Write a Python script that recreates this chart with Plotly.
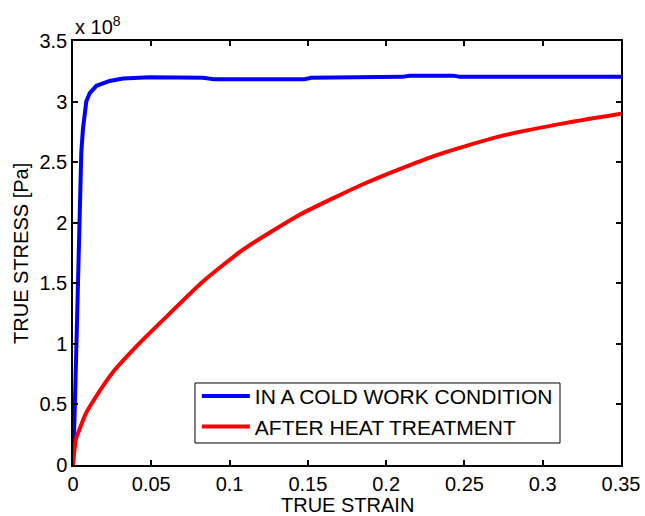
import plotly.graph_objects as go

# TRUE STRAIN values and TRUE STRESS values (in units of 1e8 Pa)
cold_strain = [0, 0.0007, 0.001, 0.0021, 0.0032, 0.0043, 0.0053, 0.0064, 0.0085, 0.0107,
               0.015, 0.0234, 0.032, 0.049, 0.083, 0.09, 0.148, 0.152, 0.18, 0.185,
               0.21, 0.215, 0.243, 0.247, 0.35]
cold_stress = [0, 0.2, 0.4, 0.95, 1.5, 2.15, 2.58, 2.78, 3.0, 3.07,
               3.13, 3.17, 3.19, 3.2, 3.196, 3.185, 3.185, 3.196, 3.196, 3.204,
               3.204, 3.214, 3.214, 3.204, 3.204]

heat_strain = [0, 0.001, 0.002, 0.004, 0.008, 0.013, 0.019, 0.027, 0.0405, 0.0617,
               0.083, 0.1086, 0.1448, 0.1874, 0.23, 0.2725, 0.315, 0.35]
heat_stress = [0, 0.13, 0.22, 0.29, 0.42, 0.53, 0.65, 0.79, 0.98, 1.25,
               1.515, 1.777, 2.066, 2.33, 2.548, 2.713, 2.824, 2.90]

SCALE = 1e8
x_ticks = [0, 0.05, 0.1, 0.15, 0.2, 0.25, 0.3, 0.35]
x_ticktext = ["0", "0.05", "0.1", "0.15", "0.2", "0.25", "0.3", "0.35"]
y_ticks = [0, 0.5, 1, 1.5, 2, 2.5, 3, 3.5]
y_ticktext = ["0", "0.5", "1", "1.5", "2", "2.5", "3", "3.5"]

FONT = "Liberation Sans, Arial, Helvetica, sans-serif"

fig = go.Figure()
fig.add_trace(go.Scatter(x=cold_strain, y=[v * SCALE for v in cold_stress], mode="lines",
                         name="IN A COLD WORK CONDITION",
                         line=dict(color="rgb(0,0,255)", width=4)))
fig.add_trace(go.Scatter(x=heat_strain, y=[v * SCALE for v in heat_stress], mode="lines",
                         name="AFTER HEAT TREATMENT",
                         line=dict(color="rgb(255,0,0)", width=4, shape="spline",
                                   smoothing=0.6)))

axis_common = dict(showline=True, linecolor="black", linewidth=1.5, mirror="ticks",
                   ticks="inside", ticklen=5, tickwidth=1.5, tickcolor="black",
                   showgrid=False, zeroline=False, automargin=False,
                   tickfont=dict(family=FONT, size=20, color="black"))

fig.update_layout(
    template="none",
    width=645, height=516,
    margin=dict(l=73, r=24, t=41, b=51, pad=0),
    paper_bgcolor="white", plot_bgcolor="white",
    font=dict(family=FONT, size=20, color="black"),
    xaxis=dict(range=[0, 0.35], tickvals=x_ticks, ticktext=x_ticktext, **axis_common),
    yaxis=dict(range=[0, 3.5 * SCALE], tickvals=[v * SCALE for v in y_ticks],
               ticktext=y_ticktext, **axis_common),
    showlegend=True,
    legend=dict(x=0.226, y=0.21, xanchor="left", yanchor="top",
                bgcolor="rgba(0,0,0,0)", borderwidth=0,
                font=dict(family=FONT, size=21, color="black"),
                tracegroupgap=0, itemwidth=48),
    shapes=[
        dict(type="rect", xref="paper", yref="paper",
             x0=0.2226, x1=0.8887, y0=0.0519, y1=0.1934,
             fillcolor="white", line=dict(color="black", width=1), layer="above"),
    ],
    annotations=[
        dict(text="TRUE STRAIN", xref="paper", yref="paper", x=0.5, y=-0.094,
             xanchor="center", yanchor="middle", showarrow=False,
             font=dict(family=FONT, size=20, color="black")),
        dict(text="TRUE STRESS [Pa]", xref="paper", yref="paper", x=-0.095, y=0.5,
             xanchor="center", yanchor="middle", textangle=-90, showarrow=False,
             font=dict(family=FONT, size=20, color="black")),
        dict(text="x 10<sup>8</sup>", xref="paper", yref="paper", x=0, y=1,
             xanchor="left", yanchor="bottom", yshift=1, showarrow=False,
             font=dict(family=FONT, size=20, color="black")),
    ],
)

fig.write_html("out.html")
